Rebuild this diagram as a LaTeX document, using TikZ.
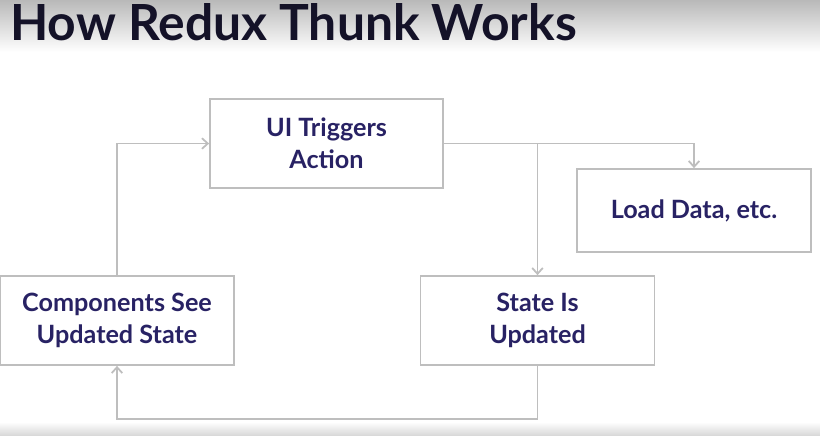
\documentclass[tikz,border=0pt]{standalone}
\usepackage{fontspec}
\setmainfont{Lato}
\usetikzlibrary{arrows.meta}
\definecolor{linegray}{RGB}{190,190,190}
\definecolor{textnavy}{RGB}{40,34,100}
\definecolor{titleink}{RGB}{20,18,40}
\begin{document}
\begin{tikzpicture}[x=0.03cm,y=-0.03cm,>={Straight Barb[length=5pt,width=9pt]},
	box/.style={draw=linegray,line width=1.5pt,fill=white,inner sep=0pt,align=center,
		text=textnavy,font=\bfseries\fontsize{21.5}{27}\selectfont},
	link/.style={draw=linegray,line width=1.5pt,->}]
			\useasboundingbox (0,0) rectangle (820,435);
			\fill[white] (0,0) rectangle (820,435);
			\shade[top color=gray!55,bottom color=white] (0,0) rectangle (820,52);
			\shade[top color=white,bottom color=gray!30] (0,422) rectangle (820,435);
			\node[anchor=base west,text=titleink,inner sep=0pt,
				font=\bfseries\fontsize{42.5}{48}\selectfont] (title) at (10,40) {How Redux Thunk Works};
			\node[box,minimum width=6.99cm,minimum height=2.67cm] (ui) at (326.5,143.5) {UI Triggers\\Action};
			\node[box,minimum width=7.02cm,minimum height=2.49cm] (load) at (694,210.5) {Load Data, etc.};
			\node[box,minimum width=7.02cm,minimum height=2.67cm] (comp) at (117,320.5) {Components See\\Updated State};
			\node[box,minimum width=7.02cm,minimum height=2.67cm] (state) at (537.5,320.5) {State Is\\Updated};
			\draw[link] (comp.north) |- (ui.west);
			\draw[link] (ui.east) -| (load.north);
			\draw[link] (ui.east -| state.north) -- (state.north);
			\draw[link] (state.south) -- ++(0,53) -| (comp.south);
\end{tikzpicture}
\end{document}
